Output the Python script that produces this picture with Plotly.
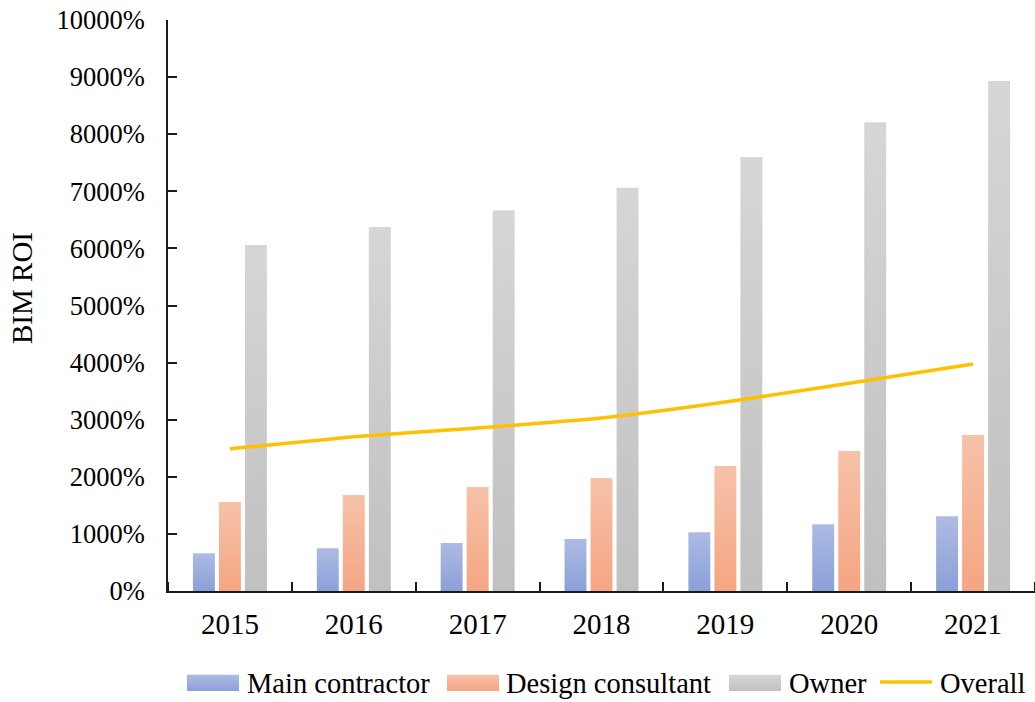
import plotly.graph_objects as go

years = ["2015", "2016", "2017", "2018", "2019", "2020", "2021"]
main_contractor = [660, 750, 840, 910, 1030, 1170, 1310]
design_consultant = [1560, 1680, 1820, 1980, 2190, 2450, 2730]
owner = [6060, 6375, 6670, 7060, 7600, 8210, 8930]
overall = [2490, 2700, 2855, 3030, 3310, 3640, 3975]

FONT = "Times New Roman, Liberation Serif, serif"
W, H = 1035, 702
M_L, M_R, M_T, M_B = 168, 0, 20, 111
PLOT_W = W - M_L - M_R
PLOT_H = H - M_T - M_B

# name, values, group offset, bottom colour, top colour
series = [
    ("Main contractor", main_contractor, -0.21, "#8ba0d8", "#adbbe3"),
    ("Design consultant", design_consultant, 0.0, "#f5a582", "#f6c2aa"),
    ("Owner", owner, 0.21, "#c0c0c0", "#d6d6d6"),
]
LINE_COLOR = "#ffc000"
BAR_W = 0.177

fig = go.Figure()

# Each bar is a filled rectangle with its own vertical gradient
for name, vals, off, c_bot, c_top in series:
    for i, v in enumerate(vals):
        x0 = i + off - BAR_W / 2
        x1 = i + off + BAR_W / 2
        fig.add_trace(go.Scatter(
            x=[x0, x1, x1, x0, x0],
            y=[0, 0, v, v, 0],
            mode="lines",
            line=dict(width=0),
            fill="toself",
            fillgradient=dict(type="vertical", start=0, stop=v,
                              colorscale=[[0, c_bot], [1, c_top]]),
            fillcolor=c_bot,
            name=name,
            showlegend=False,
            hovertemplate=f"{name}<br>{years[i]}: {v}%<extra></extra>",
        ))

fig.add_trace(go.Scatter(
    x=list(range(len(years))),
    y=overall,
    mode="lines",
    line=dict(color=LINE_COLOR, width=3.5, shape="spline", smoothing=0.5),
    name="Overall",
    showlegend=False,
))


# ---- legend below the axis, built from shapes and text ----
def px_x(x):
    return (x - M_L) / PLOT_W


def px_y(y):
    return (H - M_B - y) / PLOT_H


def hex_mix(c1, c2, t):
    a = [int(c1[k:k + 2], 16) for k in (1, 3, 5)]
    b = [int(c2[k:k + 2], 16) for k in (1, 3, 5)]
    return "#" + "".join(f"{round(p + (q - p) * t):02x}" for p, q in zip(a, b))


shapes = []
annotations = []
LEG_TOP, LEG_BOT, LEG_MID = 675, 691, 683
legend_items = [
    ("Main contractor", "bar", 187, 245, series[0]),
    ("Design consultant", "bar", 447, 504, series[1]),
    ("Owner", "bar", 729, 787, series[2]),
    ("Overall", "line", 880, 938, None),
]
SW_W = 52
STRIPS = 8
for label, kind, sx, tx, s in legend_items:
    if kind == "bar":
        c_bot, c_top = s[3], s[4]
        h = (LEG_BOT - LEG_TOP) / STRIPS
        for k in range(STRIPS):
            y_lo = LEG_BOT - k * h
            y_hi = y_lo - h
            shapes.append(dict(
                type="rect", xref="paper", yref="paper", layer="above",
                x0=px_x(sx), x1=px_x(sx + SW_W),
                y0=px_y(y_lo), y1=px_y(y_hi) + 0.0005,
                fillcolor=hex_mix(c_bot, c_top, (k + 0.5) / STRIPS),
                line=dict(width=0),
            ))
    else:
        shapes.append(dict(
            type="line", xref="paper", yref="paper", layer="above",
            x0=px_x(sx), x1=px_x(sx + SW_W),
            y0=px_y(LEG_MID - 1), y1=px_y(LEG_MID - 1),
            line=dict(color=LINE_COLOR, width=3.5),
        ))
    annotations.append(dict(
        text=label, xref="paper", yref="paper",
        x=px_x(tx), y=px_y(LEG_MID),
        xanchor="left", yanchor="middle", showarrow=False,
        font=dict(family=FONT, size=28.5, color="black"),
    ))

annotations.append(dict(
    text="BIM ROI",
    xref="paper", yref="paper",
    x=px_x(22), y=px_y(288),
    xanchor="center", yanchor="middle",
    textangle=-90,
    showarrow=False,
    font=dict(family=FONT, size=29, color="black"),
))

fig.update_layout(
    width=W,
    height=H,
    margin=dict(l=M_L, r=M_R, t=M_T, b=M_B),
    paper_bgcolor="white",
    plot_bgcolor="white",
    font=dict(family=FONT, color="black", size=26),
    showlegend=False,
    xaxis=dict(
        range=[-0.5, 6.5],
        tickmode="array",
        tickvals=list(range(len(years))),
        ticktext=years,
        ticks="",
        showgrid=False,
        zeroline=False,
        showline=True,
        linecolor="#1a1a1a",
        linewidth=1.8,
        ticklabelstandoff=6,
        tickfont=dict(family=FONT, size=29, color="black"),
        minor=dict(ticks="inside", tick0=0.5, dtick=1, ticklen=9,
                   tickcolor="#1a1a1a", tickwidth=1.5, showgrid=False),
    ),
    yaxis=dict(
        range=[0, 10000],
        tickmode="linear",
        tick0=0,
        dtick=1000,
        tickformat="d",
        ticksuffix="%",
        ticks="inside",
        ticklen=9,
        tickwidth=1.5,
        tickcolor="#1a1a1a",
        showgrid=False,
        zeroline=False,
        showline=True,
        linecolor="#1a1a1a",
        linewidth=1.8,
        ticklabelstandoff=16,
        tickfont=dict(family=FONT, size=26.5, color="black"),
    ),
    shapes=shapes,
    annotations=annotations,
)

fig.write_html("out.html")
